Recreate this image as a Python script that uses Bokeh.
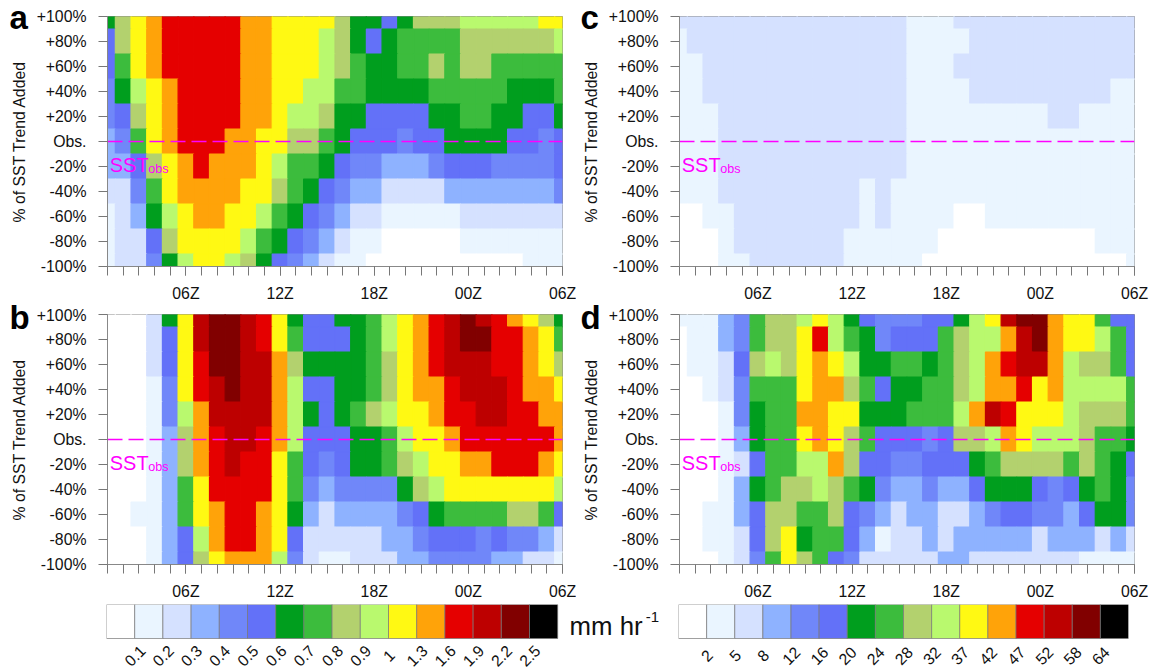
from bokeh.plotting import figure
from bokeh.layouts import column, row
from bokeh.core.properties import value
from bokeh.models import FixedTicker, Label, LabelSet, ColumnDataSource, Range1d
from bokeh.embed import file_html
from bokeh.resources import INLINE

FONT = "Liberation Sans"
colors = ["#ffffff", "#eaf5ff", "#d5e1ff", "#8eb2ff", "#7087f9", "#6371f8", "#009e1e", "#3cbc3d",
          "#b3d16e", "#b9f96e", "#fff913", "#ffa309", "#e50000", "#bd0000", "#810000", "#000000"]
hours = list(range(1, 31))
label_hours = [6, 12, 18, 24, 30]
hour_labels = ["06Z", "12Z", "18Z", "00Z", "06Z"]
levels = [100, 80, 60, 40, 20, 0, -20, -40, -60, -80, -100]
level_labels = ["+100%", "+80%", "+60%", "+40%", "+20%", "Obs.", "-20%", "-40%", "-60%", "-80%", "-100%"]
left_cb_labels = ["0.1", "0.2", "0.3", "0.4", "0.5", "0.6", "0.7", "0.8", "0.9", "1", "1.3", "1.6", "1.9", "2.2", "2.5"]
right_cb_labels = ["2", "5", "8", "12", "16", "20", "24", "28", "32", "37", "42", "47", "52", "58", "64"]

panel_a = [
    [6,8,10,11,12,12,12,12,12,11,11,10,10,10,10,8,6,6,5,6,8,8,8,9,9,9,9,9,10,10],
    [5,8,10,11,12,12,12,12,12,11,11,10,10,10,9,8,6,5,6,7,7,7,7,8,8,8,8,8,8,9],
    [5,7,10,11,12,12,12,12,12,11,11,10,10,10,9,8,7,6,6,7,7,8,7,8,8,7,7,7,7,7],
    [4,6,9,10,11,12,12,12,12,11,11,10,10,9,9,7,7,6,6,6,6,7,7,7,7,7,6,6,6,7],
    [4,5,8,10,11,12,12,12,12,11,11,10,9,9,8,6,6,5,5,5,5,6,6,7,7,6,6,5,5,6],
    [3,4,7,10,11,12,12,12,11,11,10,10,8,8,7,6,5,5,5,4,5,5,6,6,6,6,5,5,4,5],
    [3,3,5,8,10,11,12,11,11,11,10,9,7,7,6,5,4,4,3,3,3,4,5,5,5,4,4,4,4,5],
    [2,2,4,7,10,11,11,11,11,10,10,8,7,6,5,4,3,3,2,2,2,2,3,3,3,3,3,3,3,4],
    [1,2,3,6,9,10,11,11,10,10,9,7,6,5,4,3,2,2,1,1,1,1,1,2,2,2,2,2,2,2],
    [1,2,2,5,8,10,10,10,10,9,7,6,5,4,3,2,1,1,0,0,0,0,0,1,1,1,1,1,1,1],
    [1,2,2,4,6,9,10,10,9,8,6,5,4,3,2,1,1,0,0,0,0,0,0,0,0,0,0,1,1,1],
]
panel_b = [
    [0,0,0,2,6,10,13,14,14,13,12,10,6,5,5,6,6,7,9,10,11,12,13,14,13,12,11,10,8,6],
    [0,0,0,2,5,10,13,14,14,13,12,10,7,5,5,5,6,7,9,10,11,12,13,14,14,12,12,11,10,7],
    [0,0,0,2,5,10,12,14,14,13,13,11,8,6,6,6,6,7,8,10,11,12,13,13,13,12,12,11,10,8],
    [0,0,0,1,4,10,12,13,14,13,13,11,9,5,5,6,6,7,8,10,11,11,12,13,13,13,12,11,11,10],
    [0,0,0,1,4,9,11,13,13,13,13,11,9,6,5,6,7,8,9,10,10,11,12,12,13,13,12,12,11,11],
    [0,0,0,1,3,8,11,12,13,13,12,11,9,5,5,5,6,6,7,9,10,10,11,12,12,12,12,12,12,11],
    [0,0,0,1,3,8,11,12,13,12,12,10,7,5,4,5,6,6,7,8,9,10,10,11,11,12,12,12,11,10],
    [0,0,0,1,3,7,10,12,12,12,12,10,7,4,3,4,4,4,4,6,8,9,10,10,10,10,10,10,10,9],
    [0,0,1,1,3,7,10,11,12,12,11,10,6,3,2,3,3,3,3,4,5,6,7,7,7,7,8,8,7,5],
    [0,0,0,1,3,5,9,11,12,12,11,10,5,2,2,2,2,2,3,3,4,5,5,5,4,5,4,4,3,2],
    [0,0,0,1,3,5,8,10,11,11,11,9,4,2,1,1,2,2,2,3,3,4,4,4,4,3,3,2,2,1],
]
panel_c = [
    [2,2,2,2,2,2,2,2,2,2,2,2,2,2,2,1,1,1,2,2,2,2,2,2,2,2,2,2,2,2],
    [1,2,2,2,2,2,2,2,2,2,2,2,2,2,2,1,1,1,1,2,2,2,2,2,2,2,2,2,2,2],
    [1,1,2,2,2,2,2,2,2,2,2,2,2,2,2,1,1,1,2,2,2,2,2,2,2,2,2,2,2,2],
    [1,1,2,2,2,2,2,2,2,2,2,2,2,2,2,1,1,1,1,2,2,2,2,2,2,2,2,2,1,1],
    [1,1,1,2,2,2,2,2,2,2,2,2,2,2,2,1,1,1,1,1,1,1,1,1,2,2,1,1,1,1],
    [1,1,1,2,2,2,2,2,2,2,2,2,2,2,2,1,1,1,1,1,1,1,1,1,1,1,1,1,1,1],
    [1,1,1,2,2,2,2,2,2,2,2,2,2,2,2,1,1,1,1,1,1,1,1,1,1,1,1,1,1,1],
    [1,1,1,2,2,2,2,2,2,2,2,2,1,2,1,1,1,1,1,1,1,1,1,1,1,1,1,1,1,1],
    [0,0,1,1,2,2,2,2,2,2,2,2,1,2,1,1,1,1,0,0,1,1,1,1,1,1,1,1,1,1],
    [0,0,0,1,2,2,2,2,2,2,2,1,1,1,1,1,1,0,0,0,0,0,0,0,0,0,0,1,1,1],
    [0,0,0,1,1,2,2,2,2,2,2,1,1,1,1,1,0,0,0,0,0,0,0,0,0,0,0,0,0,1],
]
panel_d = [
    [1,1,1,3,4,7,8,8,9,10,9,6,5,4,4,4,5,5,6,9,10,13,14,14,11,10,10,7,5,5],
    [0,1,1,3,4,7,8,8,10,12,9,7,6,4,5,5,5,7,8,9,9,11,13,14,11,10,10,9,7,5],
    [0,1,1,2,5,8,9,8,10,11,10,9,6,6,7,7,6,7,8,9,11,12,13,13,11,9,8,8,7,5],
    [0,0,1,2,4,7,7,7,10,11,11,8,7,5,6,6,7,7,8,9,11,11,12,10,11,9,9,9,9,7],
    [0,0,0,1,4,6,7,7,11,11,10,10,6,6,6,7,7,7,9,11,13,12,10,10,10,9,8,8,8,7],
    [0,0,0,1,3,6,7,7,10,11,10,8,7,5,5,5,4,5,8,8,9,11,10,9,9,9,8,7,7,6],
    [0,0,0,1,2,5,7,7,9,9,11,8,5,5,4,4,5,5,5,6,7,8,8,8,8,7,8,7,6,5],
    [0,0,0,1,3,6,7,8,8,9,8,7,6,4,3,3,4,3,3,5,6,6,6,5,4,5,6,7,6,4],
    [0,0,1,1,3,5,8,8,7,7,8,5,4,3,2,3,3,2,2,3,4,5,5,4,4,3,5,6,6,4],
    [0,0,1,1,2,5,8,10,6,7,7,5,3,1,2,2,3,2,3,3,3,3,3,2,3,3,3,2,3,2],
    [0,0,0,1,2,4,7,10,8,7,5,4,2,2,2,2,2,3,3,2,2,2,2,2,2,2,1,1,1,1],
]


def heat(grid, left, right, top, bottom):
    p = figure(frame_width=455, frame_height=250, x_range=Range1d(1, 30), y_range=Range1d(-100, 100),
               output_backend="svg", toolbar_location=None, tools="", border_fill_color=None,
               min_border_left=left, min_border_right=right, min_border_top=top, min_border_bottom=bottom)
    L, R, B, T, C = [], [], [], [], []
    for lev, vals in zip(levels, grid):
        for h, v in zip(hours, vals):
            L.append(h - 0.5); R.append(h + 0.5); B.append(lev - 10); T.append(lev + 10); C.append(colors[v])
    p.quad(left=L, right=R, bottom=B, top=T, fill_color=C, line_color=C, line_width=1.2)
    p.grid.visible = False
    p.outline_line_color = "#888888"
    p.line(x=[hours[0], hours[-1]], y=[0, 0], line_color="#ff00ff", line_width=1.3, line_dash="15 6")
    p.xaxis.ticker = FixedTicker(ticks=label_hours, minor_ticks=hours)
    p.xaxis.major_label_overrides = dict(zip(label_hours, hour_labels))
    p.yaxis.ticker = FixedTicker(ticks=levels)
    p.yaxis.major_label_overrides = dict(zip(levels, level_labels))
    for ax in (p.xaxis[0], p.yaxis[0]):
        ax.axis_line_color = "#888888"
        ax.major_tick_line_color = "#777777"
        ax.major_tick_in = 0
        ax.major_label_text_font = FONT
        ax.major_label_text_font_size = "15.8px"
        ax.major_label_text_color = "#111111"
    p.xaxis.minor_tick_line_color = "#777777"
    p.xaxis.minor_tick_in = 0
    p.xaxis.minor_tick_out = 9
    p.xaxis.major_tick_out = 9
    p.xaxis.major_label_standoff = 9
    p.yaxis.minor_tick_line_color = None
    p.yaxis.major_tick_out = 9
    p.yaxis.major_label_standoff = 12
    p.yaxis.axis_label = "% of SST Trend Added"
    p.yaxis.axis_label_text_font = FONT
    p.yaxis.axis_label_text_font_size = "15.8px"
    p.yaxis.axis_label_text_font_style = "normal"
    p.yaxis.axis_label_text_color = "#111111"
    p.yaxis.axis_label_standoff = 6
    p.add_layout(Label(x=1.15, y=-19, text="SST", text_font=FONT, text_font_size="19.9px",
                       text_color="#ff00ff", text_baseline="alphabetic"))
    p.add_layout(Label(x=3.6, y=-22.2, text="obs", text_font=FONT, text_font_size="12.6px",
                       text_color="#ff00ff", text_baseline="alphabetic"))
    return p


def letter_fig(letter, x, y):
    width = 60
    height = 90
    p = figure(frame_width=width, frame_height=height, x_range=Range1d(0, width), y_range=Range1d(0, height),
               output_backend="svg", toolbar_location=None, tools="", border_fill_color=None,
               background_fill_color=None, outline_line_color=None, margin=(-30, -width, 0, 0),
               min_border_left=0, min_border_right=0, min_border_top=0, min_border_bottom=0)
    p.axis.visible = False
    p.grid.visible = False
    p.text(x=[x], y=[y], text=[letter], text_font=value(FONT), text_font_size=value("33px"),
           text_font_style="bold", text_color="#000000", text_baseline="alphabetic")
    return p


a = heat(panel_a, 107, 14, 16, 40)
c = heat(panel_c, 103, 16, 16, 40)
b = heat(panel_b, 107, 14, 8, 40)
d = heat(panel_d, 103, 16, 8, 40)


def colorbar(labels, frame_width, x_end, left, right):
    n = len(colors)
    p = figure(frame_width=frame_width, frame_height=65, x_range=Range1d(0, x_end), y_range=Range1d(-31 / 34, 1),
               output_backend="svg", toolbar_location=None, tools="",
               min_border_left=left, min_border_right=right, min_border_top=0, min_border_bottom=0)
    xs = list(range(n))
    p.quad(left=xs, right=[x + 1 for x in xs], bottom=0, top=1, fill_color=colors,
           line_color="#777777", line_alpha=0.7, line_width=1)
    p.grid.visible = False
    p.axis.visible = False
    p.outline_line_color = None
    src = ColumnDataSource(dict(x=list(range(1, n)), t=labels, y=[-0.5] * len(labels)))
    p.add_layout(LabelSet(x="x", y="y", text="t", source=src, angle=45, angle_units="deg",
                          text_align="center", text_baseline="middle", text_font=value(FONT),
                          text_font_size=value("15.8px"), text_color="#111111"))
    return p


cb_l = colorbar(left_cb_labels, 564, 20, 106, 8)
cb_r = colorbar(right_cb_labels, 450, 16, 0, 2)
cb_l.add_layout(Label(x=16.42, y=0.38, text="mm hr", text_font=FONT,
                      text_font_size="25.8px", text_color="#111111", text_baseline="alphabetic"))
cb_l.add_layout(Label(x=19.12, y=0.62, text="-1", text_font=FONT,
                      text_font_size="15px", text_color="#111111", text_baseline="alphabetic"))

layout = column(
    row(letter_fig("a", 9, 59), a, letter_fig("c", 4, 59), c),
    row(letter_fig("b", 9, 57), b, letter_fig("d", 4, 57), d),
    row(cb_l, cb_r),
)
open("out.html", "w").write(file_html(layout, INLINE))
